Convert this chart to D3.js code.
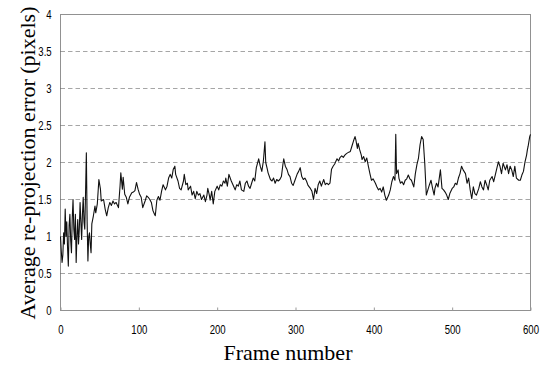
<!DOCTYPE html>
<html>
<head>
<meta charset="utf-8">
<script src="https://cdn.jsdelivr.net/npm/d3@7/dist/d3.min.js"></script>
<style>
  body { margin: 0; background: #fff; }
  svg { display: block; }
</style>
</head>
<body>
<script>
// frame numbers and the average re-projection error
const frames = [
  0, 1, 2, 3, 4, 5, 6, 7, 8, 9, 10, 11, 12, 13, 14, 15, 16, 17, 18, 19,
  20, 21, 22, 23, 24, 25, 26, 27, 28, 29, 30, 31, 32, 33, 34, 35, 36, 37, 38, 39,
  40, 42, 44, 45, 47, 49, 51, 52, 55, 57, 59, 61, 63, 65, 67, 69, 71, 74, 76, 77,
  79, 80, 82, 84, 86, 88, 91, 93, 95, 97, 99, 101, 103, 105, 108, 110, 112, 114, 116, 118,
  120, 121, 123, 125, 127, 129, 131, 134, 136, 138, 140, 142, 144, 146, 147, 150, 152, 154, 157, 158,
  160, 162, 163, 166, 168, 170, 172, 174, 176, 178, 180, 183, 185, 187, 188, 190, 191, 193, 195, 197,
  200, 202, 204, 206, 208, 210, 211, 213, 215, 218, 221, 223, 225, 227, 229, 231, 234, 236, 238, 240,
  242, 244, 246, 248, 250, 253, 255, 257, 259, 261, 262, 264, 265, 268, 270, 272, 274, 276, 278, 280,
  282, 284, 285, 287, 289, 291, 293, 295, 297, 299, 302, 304, 306, 308, 310, 312, 314, 316, 319, 321,
  323, 325, 327, 329, 331, 333, 336, 338, 340, 342, 344, 346, 348, 350, 353, 355, 357, 359, 361, 363,
  365, 368, 370, 372, 374, 376, 377, 379, 380, 382, 384, 385, 387, 389, 391, 393, 395, 397, 399, 402,
  404, 406, 408, 410, 412, 414, 416, 419, 421, 423, 425, 427, 428, 429, 431, 432, 434, 436, 438, 440,
  442, 444, 446, 448, 451, 453, 455, 457, 459, 461, 463, 465, 467, 469, 471, 473, 475, 477, 478, 480,
  482, 485, 487, 489, 491, 493, 495, 497, 500, 502, 504, 506, 508, 510, 512, 514, 517, 519, 521, 523,
  525, 527, 529, 531, 534, 536, 538, 540, 542, 544, 546, 548, 551, 553, 555, 557, 559, 561, 563, 565,
  568, 570, 572, 574, 576, 578, 580, 582, 585, 587, 589, 591, 593, 595, 596, 597, 599, 600
];
const errors = [
  1.00, 0.80, 0.65, 0.75, 1.05, 0.90, 1.37, 1.00, 1.20, 0.85, 0.60, 1.15, 1.30, 0.95, 0.78, 1.25, 1.50, 1.10, 0.96, 1.30,
  0.65, 1.00, 1.23, 0.90, 1.10, 1.46, 1.20, 0.96, 1.30, 1.53, 1.20, 1.10, 1.60, 2.13, 1.20, 0.67, 1.00, 1.05, 0.90, 0.78,
  1.17, 1.28, 1.41, 1.32, 1.44, 1.77, 1.64, 1.48, 1.50, 1.37, 1.28, 1.39, 1.46, 1.42, 1.48, 1.44, 1.46, 1.39, 1.68, 1.86,
  1.64, 1.80, 1.57, 1.53, 1.44, 1.53, 1.59, 1.60, 1.62, 1.73, 1.64, 1.57, 1.53, 1.39, 1.48, 1.55, 1.53, 1.50, 1.46, 1.35,
  1.30, 1.28, 1.49, 1.54, 1.49, 1.61, 1.70, 1.63, 1.68, 1.79, 1.84, 1.79, 1.91, 1.95, 1.84, 1.75, 1.65, 1.63, 1.75, 1.84,
  1.70, 1.72, 1.63, 1.68, 1.56, 1.61, 1.51, 1.61, 1.56, 1.58, 1.50, 1.56, 1.47, 1.56, 1.65, 1.56, 1.49, 1.61, 1.44, 1.61,
  1.68, 1.63, 1.70, 1.68, 1.75, 1.72, 1.79, 1.68, 1.84, 1.75, 1.68, 1.63, 1.70, 1.68, 1.75, 1.63, 1.61, 1.72, 1.75, 1.68,
  1.65, 1.72, 1.79, 1.75, 1.93, 2.05, 1.95, 1.88, 2.02, 2.28, 2.00, 1.91, 1.86, 1.77, 1.75, 1.79, 1.72, 1.77, 1.75, 1.77,
  1.81, 1.98, 2.05, 1.95, 1.91, 1.84, 1.81, 1.72, 1.69, 1.75, 1.84, 1.88, 1.93, 1.81, 1.77, 1.79, 1.75, 1.69, 1.65, 1.61,
  1.50, 1.65, 1.58, 1.70, 1.75, 1.68, 1.77, 1.70, 1.72, 1.70, 1.72, 1.91, 1.95, 1.98, 2.05, 2.02, 2.07, 2.09, 2.07, 2.10,
  2.12, 2.14, 2.15, 2.22, 2.29, 2.35, 2.31, 2.19, 2.26, 2.17, 2.10, 2.04, 2.08, 2.01, 2.06, 1.95, 1.85, 1.76, 1.78, 1.72,
  1.67, 1.63, 1.65, 1.60, 1.67, 1.56, 1.49, 1.56, 1.63, 1.74, 1.81, 1.76, 2.38, 1.85, 1.90, 1.79, 1.72, 1.74, 1.70, 1.76,
  1.78, 1.83, 1.78, 1.76, 1.67, 1.85, 1.97, 2.06, 2.24, 2.35, 2.31, 1.99, 1.56, 1.63, 1.70, 1.76, 1.65, 1.56, 1.65, 1.72,
  1.67, 1.90, 1.65, 1.63, 1.60, 1.56, 1.50, 1.58, 1.65, 1.67, 1.72, 1.70, 1.79, 1.85, 1.95, 1.90, 1.85, 1.72, 1.79, 1.63,
  1.51, 1.67, 1.58, 1.56, 1.65, 1.74, 1.67, 1.63, 1.76, 1.70, 1.63, 1.76, 1.81, 1.74, 1.83, 1.92, 2.01, 1.95, 1.85, 1.99,
  1.90, 1.97, 1.85, 1.95, 1.90, 1.81, 1.95, 1.79, 1.76, 1.76, 1.83, 1.88, 2.01, 2.10, 2.17, 2.22, 2.35, 2.38
];
const xTicks = [0, 100, 200, 300, 400, 500, 600];
const yTicks = [0, 0.5, 1, 1.5, 2, 2.5, 3, 3.5, 4];

const width = 547;
const height = 367;
const plotLeft = 60.5, plotRight = 530.5, plotTop = 14.5, plotBottom = 310.5;

const svg = d3.select("body").append("svg")
  .attr("width", width)
  .attr("height", height);

svg.append("rect").attr("width", width).attr("height", height).attr("fill", "#fff");

const x = d3.scaleLinear().domain([0, 600]).range([plotLeft, plotRight]);
const y = d3.scaleLinear().domain([0, 4]).range([plotBottom, plotTop]);

const labelFont = "'Liberation Sans', Arial, sans-serif";
const titleFont = "'Liberation Serif', 'Times New Roman', serif";

// dashed grid lines
svg.append("g")
  .selectAll("line")
  .data(yTicks.filter(d => d > 0 && d < 4))
  .join("line")
  .attr("x1", plotLeft).attr("x2", plotRight)
  .attr("y1", d => y(d)).attr("y2", d => y(d))
  .attr("stroke", "#a6a6a6")
  .attr("stroke-width", 1)
  .attr("stroke-dasharray", "4.5,3");

// dotted frame of the plot area
svg.append("rect")
  .attr("x", plotLeft).attr("y", plotTop)
  .attr("width", plotRight - plotLeft).attr("height", plotBottom - plotTop)
  .attr("fill", "none")
  .attr("stroke", "#222")
  .attr("stroke-width", 1)
  .attr("stroke-dasharray", "1,1");

// x axis: short ticks inside, labels below (narrowed like the original font)
const xAxis = svg.append("g")
  .attr("transform", "translate(0," + plotBottom + ")")
  .call(d3.axisBottom(x).tickValues(xTicks).tickSize(-3).tickPadding(15));
xAxis.select(".domain").remove();
xAxis.selectAll(".tick line").attr("stroke", "#999");
xAxis.selectAll(".tick text")
  .attr("font-family", labelFont)
  .attr("font-size", 12)
  .attr("fill", "#000")
  .attr("transform", "scale(0.8,1)");

// y axis: labels only
const yAxis = svg.append("g")
  .attr("transform", "translate(" + plotLeft + ",0)")
  .call(d3.axisLeft(y).tickValues(yTicks).tickSize(0).tickPadding(11).tickFormat(d3.format("")));
yAxis.select(".domain").remove();
yAxis.selectAll(".tick text")
  .attr("font-family", labelFont)
  .attr("font-size", 12)
  .attr("fill", "#000")
  .attr("transform", "scale(0.8,1)");

// the error curve
const line = d3.line()
  .x((d, i) => x(frames[i]))
  .y(d => y(d));

svg.append("path")
  .datum(errors)
  .attr("fill", "none")
  .attr("stroke", "#111")
  .attr("stroke-width", 1.1)
  .attr("stroke-linejoin", "round")
  .attr("d", line);

// axis titles
svg.append("text")
  .attr("x", 288).attr("y", 360)
  .attr("text-anchor", "middle")
  .attr("font-family", titleFont)
  .attr("font-size", 22)
  .text("Frame number");

svg.append("text")
  .attr("transform", "translate(35,163) rotate(-90)")
  .attr("text-anchor", "middle")
  .attr("font-family", titleFont)
  .attr("font-size", 22)
  .text("Average re-projection error (pixels)");
</script>
</body>
</html>
